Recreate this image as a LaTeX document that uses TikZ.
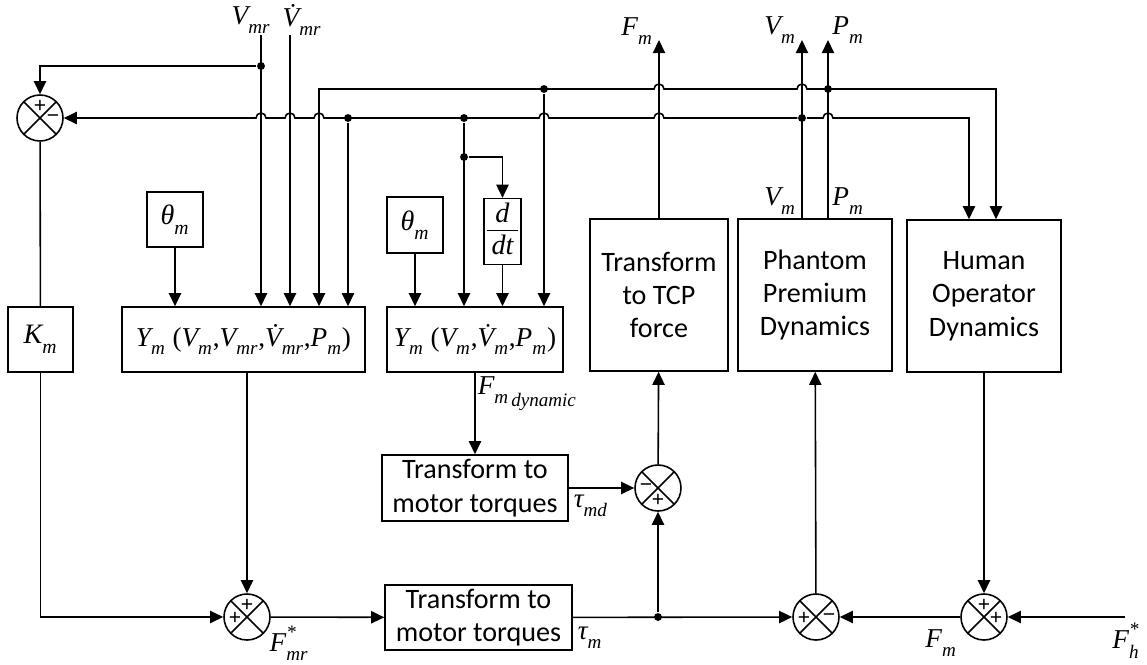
\documentclass[tikz,border=0pt]{standalone}
\usepackage{fontspec}
\setmainfont{Carlito}
\newfontfamily\tms{Liberation Serif}
\newfontfamily\sgnf{Liberation Sans}
\usetikzlibrary{arrows.meta}
\newcommand{\sv}[2]{{\tms\itshape #1\raisebox{-0.18em}{\textsubscript{#2}}}}
\newcommand{\hr}{0.1cm}

\begin{document}
\begin{tikzpicture}[x=0.02cm, y=-0.02cm, line width=0.9pt,
    >={Triangle[length=7.5pt,width=7pt]},
    blk/.style={draw, align=center, inner sep=0pt, font=\fontsize{16}{19}\selectfont},
    sumj/.style={draw, circle, minimum size=0.92cm, inner sep=0pt,
        path picture={\draw (path picture bounding box.north west) -- (path picture bounding box.south east)
            (path picture bounding box.north east) -- (path picture bounding box.south west);}},
    sgn/.style={inner sep=0pt, font=\sgnf\fontsize{12}{12}\selectfont},
    lbl/.style={inner sep=0pt, font=\fontsize{15.5}{17}\selectfont},
    jn/.style={circle, fill, inner sep=0pt, minimum size=4.5pt},
]
    \useasboundingbox (0,0) rectangle (1147,664);

    % Summing junctions
    \node[sumj] (sumv) at (40,118) {};
    \node[sumj] (sumd) at (658,488) {};
    \node[sumj] (sumf) at (247,617) {};
    \node[sumj] (sump) at (816,617) {};
    \node[sumj] (sumh) at (984,617) {};

    % Blocks
    \node[blk, minimum width=1.3cm, minimum height=1.3cm] (gain) at (40.5,339.5) {\sv{K}{m}};
    \node[blk, minimum width=1.12cm, minimum height=1.1cm] (ang1) at (175,219.5) {\sv{θ}{m}};
    \node[blk, minimum width=4.86cm, minimum height=1.3cm] (regr) at (243.5,339.5)
        {\tms\fontsize{15.5}{17}\selectfont\sv{Y}{m}~(\sv{V}{m},\sv{V}{mr},\sv{\.V}{mr},\sv{P}{m})};
    \node[blk, minimum width=1.12cm, minimum height=1.12cm] (ang2) at (415,225) {\sv{θ}{m}};
    \node[blk, minimum width=0.74cm, minimum height=1.3cm] (deriv) at (502.5,231.5)
        {\tms\itshape\begin{tabular}{@{\,}c@{\,}}d\\[-1pt]\hline dt\end{tabular}};
    \node[blk, minimum width=3.52cm, minimum height=1.3cm] (regd) at (475,339.5)
        {\tms\fontsize{15.5}{17}\selectfont\sv{Y}{m}~(\sv{V}{m},\sv{\.V}{m},\sv{P}{m})};
    \node[blk, minimum width=3.72cm, minimum height=1.32cm] (trq1) at (475,488) {Transform to\\motor torques};
    \node[blk, minimum width=2.76cm, minimum height=3.04cm] (tcp) at (659,295) {Transform\\to TCP\\force};
    \node[blk, minimum width=3.08cm, minimum height=3.04cm] (phantom) at (815,295) {Phantom\\Premium\\Dynamics};
    \node[blk, minimum width=3.08cm, minimum height=3.04cm] (human) at (984,296) {Human\\Operator\\Dynamics};
    \node[blk, minimum width=3.74cm, minimum height=1.3cm] (trq2) at (478.5,617.5) {Transform to\\motor torques};

    % Signs
    \node[sgn] at (40,106) {+};
    \node[sgn] at (53,119) {−};
    \node[sgn] at (646,488) {−};
    \node[sgn] at (658,500) {+};
    \node[sgn] at (247,605) {+};
    \node[sgn] at (235,618) {+};
    \node[sgn] at (804,618) {+};
    \node[sgn] at (829,618) {−};
    \node[sgn] at (984,605) {+};
    \node[sgn] at (996,618) {+};

    % Free ends
    \coordinate (vmr) at (261,35);
    \coordinate (vmrd) at (290,35);
    \coordinate (outF) at (659,40);
    \coordinate (outV) at (802,40);
    \coordinate (outP) at (828,40);
    \coordinate (inFh) at (1125,617);
    \coordinate (cA) at (319,89);
    \coordinate (hA) at (996,89);
    \coordinate (hB) at (969,118);

    % Junction dots
    \node[jn] (jv) at (261,66) {};
    \node[jn] (jA1) at (544,89) {};
    \node[jn] (jA2) at (828,89) {};
    \node[jn] (jB1) at (348,118) {};
    \node[jn] (jB2) at (464,118) {};
    \node[jn] (jB3) at (802,118) {};
    \node[jn] (jd) at (464,157) {};
    \node[jn] (tap) at (658,617) {};

    % Reference inputs
    \draw[->] (vmr) -- (vmr |- regr.north);
    \draw[->] (vmrd) -- (vmrd |- regr.north);
    \draw[->] (jv) -| (sumv);

    % P_m bus
    \draw[<->] (cA |- regr.north) -- (cA) -- (654,89) arc (180:0:\hr) -- (797,89) arc (180:0:\hr)
        -- (hA) -- (hA |- human.north);
    \draw[->] (jA1) -- (jA1 |- regd.north);

    % V_m bus
    \draw[->] (jB3) -- (664,118) arc (0:180:\hr) -- (549,118) arc (0:180:\hr) -- (324,118) arc (0:180:\hr)
        -- (295,118) arc (0:180:\hr) -- (266,118) arc (0:180:\hr) -- (sumv.east);
    \draw[->] (jB3) -- (823,118) arc (180:0:\hr) -- (hB) -- (hB |- human.north);
    \draw[->] (jB1) -- (jB1 |- regr.north);
    \draw[->] (jB2) -- (jB2 |- regd.north);
    \draw[->] (jd) -| (deriv);

    % Block inputs
    \draw[->] (ang1) -- (ang1 |- regr.north);
    \draw[->] (ang2) -- (ang2 |- regd.north);
    \draw[->] (deriv) -- (deriv |- regd.north);

    % Forward paths
    \draw (sumv) -- (gain);
    \draw[->] (gain) |- (sumf);
    \draw[->] (regr.south -| sumf) -- (sumf);
    \draw[->] (sumf) -- (trq2);
    \draw[->] (trq2) -- (sump);
    \draw[->] (tap) -- (sumd);
    \draw[->] (regd.south) -- (trq1);
    \draw[->] (trq1) -- (sumd);
    \draw[->] (sumd) -- (tcp);
    \draw[->] (tcp) -- (outF);
    \draw[->] (outV |- phantom.north) -- (outV);
    \draw[->] (outP |- phantom.north) -- (outP);
    \draw[->] (sump) -- (phantom);
    \draw[->] (human) -- (sumh);
    \draw[->] (inFh) -- (sumh);
    \draw[->] (sumh) -- (sump);

    % Labels
    \node[lbl] at (251,20) {\sv{V}{mr}};
    \node[lbl] at (302,20) {\sv{\.V}{mr}};
    \node[lbl] at (637,31) {\sv{F}{m}};
    \node[lbl] at (780,30) {\sv{V}{m}};
    \node[lbl] at (848,30) {\sv{P}{m}};
    \node[lbl] at (780,201) {\sv{V}{m}};
    \node[lbl] at (848,201) {\sv{P}{m}};
    \node[lbl, anchor=west] at (477,394) {\sv{F}{m\,\raisebox{-2pt}{dynamic}}};
    \node[lbl, anchor=west] at (573,506) {\sv{τ}{md}};
    \node[lbl, anchor=west] at (577,638) {\sv{τ}{m}};
    \node[lbl] at (289,643) {\tms\itshape F\rlap{\raisebox{0.15em}{\textsuperscript{*}}}\raisebox{-0.2em}{\textsubscript{mr}}};
    \node[lbl] at (941,643) {\sv{F}{m}};
    \node[lbl] at (1126,641) {\tms\itshape F\rlap{\raisebox{0.15em}{\textsuperscript{*}}}\raisebox{-0.2em}{\textsubscript{h}}};
\end{tikzpicture}
\end{document}
